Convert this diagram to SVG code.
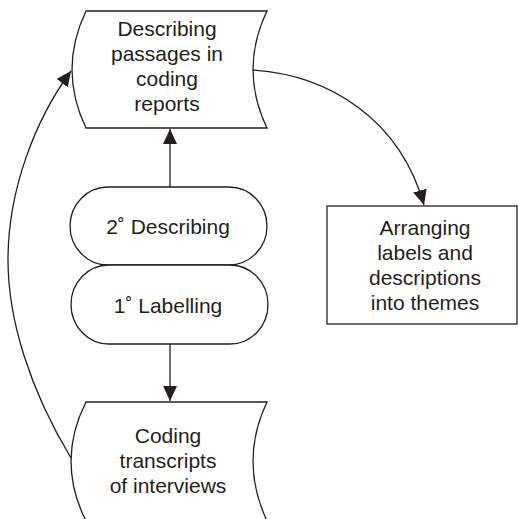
<svg xmlns="http://www.w3.org/2000/svg" width="518" height="519" viewBox="0 0 518 519">
<defs>
<style>
.s{fill:#fff;stroke:#231f20;stroke-width:1.3}
.c{fill:none;stroke:#231f20;stroke-width:1.3}
.t{font-family:"Liberation Sans",Arial,sans-serif;font-size:21px;fill:#231f20;text-anchor:middle}
</style>
<marker id="ah" markerUnits="userSpaceOnUse" markerWidth="16" markerHeight="16" viewBox="0 0 16 16" refX="15" refY="7" orient="auto">
<path d="M0,0 L15,7 L0,14 Z" fill="#231f20"/>
</marker>
</defs>
<rect width="518" height="519" fill="#fff"/>
<g id="connectors">
<path class="c" d="M170,187 L170,129" marker-end="url(#ah)"/>
<path class="c" d="M170,344 L170,401" marker-end="url(#ah)"/>
<path class="c" d="M71,458 C30,390 8,320 8,260 C8,190 35,120 71,71" marker-end="url(#ah)"/>
<path class="c" d="M253,70 C330,75 400,120 424,205" marker-end="url(#ah)"/>
</g>
<g id="describing-passages">
<path class="s" d="M86,11 L267,11 Q239,69.5 267,128 L86,128 Q58,69.5 86,11 Z"/>
<text class="t" x="167" y="36">Describing</text>
<text class="t" x="167" y="61">passages in</text>
<text class="t" x="167" y="86">coding</text>
<text class="t" x="167" y="111">reports</text>
</g>
<g id="secondary-describing">
<rect class="s" x="70" y="187" width="197" height="78" rx="38" ry="39"/>
<text class="t" x="168" y="234">2˚ Describing</text>
</g>
<g id="primary-labelling">
<rect class="s" x="71" y="265" width="197" height="79" rx="38" ry="39.5"/>
<text class="t" x="168" y="313">1˚ Labelling</text>
</g>
<g id="coding-transcripts">
<path class="s" d="M86,402 L267,402 Q239,461 267,521 L86,521 Q56,461 86,402 Z"/>
<text class="t" x="168" y="443">Coding</text>
<text class="t" x="168" y="468">transcripts</text>
<text class="t" x="168" y="493">of interviews</text>
</g>
<g id="arranging-themes">
<rect class="s" x="327" y="206" width="190" height="118"/>
<text class="t" x="425" y="235">Arranging</text>
<text class="t" x="425" y="260">labels and</text>
<text class="t" x="425" y="285">descriptions</text>
<text class="t" x="425" y="310">into themes</text>
</g>
</svg>
